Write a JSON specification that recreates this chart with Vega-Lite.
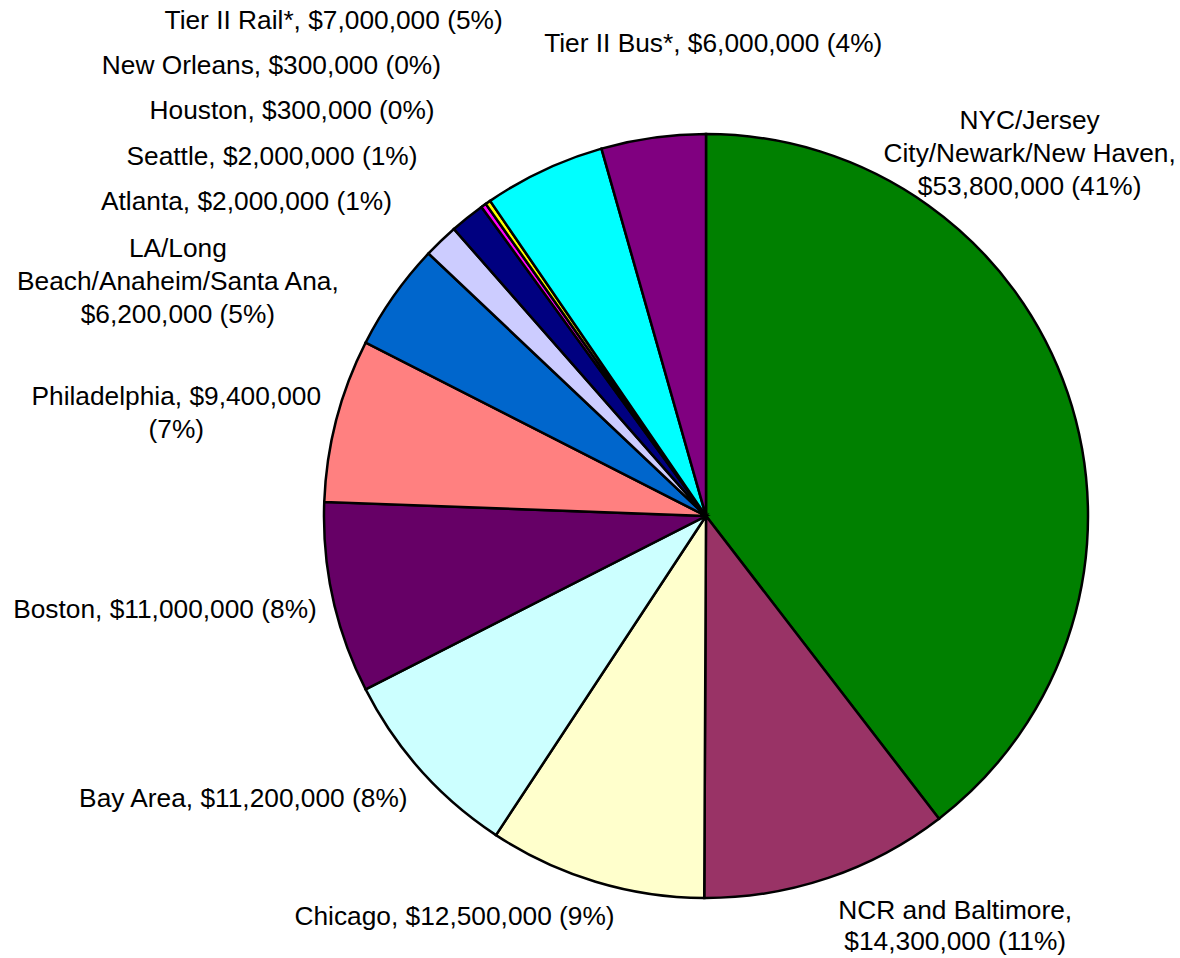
{
  "$schema": "https://vega.github.io/schema/vega-lite/v6.json",
  "width": 764,
  "height": 764,
  "autosize": {"type": "none"},
  "padding": {"left": 324, "top": 134, "right": 92, "bottom": 60},
  "background": "white",
  "config": {"view": {"stroke": null}, "text": {"font": "Liberation Sans", "fontSize": 26.3, "lineHeight": 33, "lineBreak": "\n", "color": "black"}},
  "data": {
    "values": [
      {"rank": 1, "region": "NYC/Jersey City/Newark/New Haven", "amount": 53800000, "label": "NYC/Jersey\nCity/Newark/New Haven,\n$53,800,000 (41%)"},
      {"rank": 2, "region": "NCR and Baltimore", "amount": 14300000, "label": "NCR and Baltimore,\n$14,300,000 (11%)"},
      {"rank": 3, "region": "Chicago", "amount": 12500000, "label": "Chicago, $12,500,000 (9%)"},
      {"rank": 4, "region": "Bay Area", "amount": 11200000, "label": "Bay Area, $11,200,000 (8%)"},
      {"rank": 5, "region": "Boston", "amount": 11000000, "label": "Boston, $11,000,000 (8%)"},
      {"rank": 6, "region": "Philadelphia", "amount": 9400000, "label": "Philadelphia, $9,400,000\n(7%)"},
      {"rank": 7, "region": "LA/Long Beach/Anaheim/Santa Ana", "amount": 6200000, "label": "LA/Long\nBeach/Anaheim/Santa Ana,\n$6,200,000 (5%)"},
      {"rank": 8, "region": "Atlanta", "amount": 2000000, "label": "Atlanta, $2,000,000 (1%)"},
      {"rank": 9, "region": "Seattle", "amount": 2000000, "label": "Seattle, $2,000,000 (1%)"},
      {"rank": 10, "region": "Houston", "amount": 300000, "label": "Houston, $300,000 (0%)"},
      {"rank": 11, "region": "New Orleans", "amount": 300000, "label": "New Orleans, $300,000 (0%)"},
      {"rank": 12, "region": "Tier II Rail*", "amount": 7000000, "label": "Tier II Rail*, $7,000,000 (5%)"},
      {"rank": 13, "region": "Tier II Bus*", "amount": 6000000, "label": "Tier II Bus*, $6,000,000 (4%)"}
    ]
  },
  "encoding": {
    "theta": {"field": "amount", "type": "quantitative", "stack": true},
    "order": {"field": "rank", "type": "quantitative", "sort": "ascending"}
  },
  "layer": [
    {
      "mark": {"type": "arc", "stroke": "black", "strokeWidth": 2.5, "outerRadius": 382},
      "encoding": {
        "color": {
          "field": "region", "type": "nominal", "legend": null,
          "scale": {
            "domain": ["NYC/Jersey City/Newark/New Haven", "NCR and Baltimore", "Chicago", "Bay Area", "Boston", "Philadelphia", "LA/Long Beach/Anaheim/Santa Ana", "Atlanta", "Seattle", "Houston", "New Orleans", "Tier II Rail*", "Tier II Bus*"],
            "range": ["#008000", "#993366", "#FFFFCC", "#CCFFFF", "#660066", "#FF8080", "#0066CC", "#CCCCFF", "#000080", "#FF00FF", "#FFFF00", "#00FFFF", "#800080"]
          }
        }
      }
    },
    {"mark": {"type": "text", "radius": 382, "align": "center", "baseline": "middle", "dx": -38, "dy": -272},
     "encoding": {"text": {"condition": {"test": "datum.rank === 1", "field": "label", "type": "nominal"}, "value": ""}}},
    {"mark": {"type": "text", "radius": 382, "align": "center", "baseline": "middle", "dx": 127, "dy": 33, "lineHeight": 31},
     "encoding": {"text": {"condition": {"test": "datum.rank === 2", "field": "label", "type": "nominal"}, "value": ""}}},
    {"mark": {"type": "text", "radius": 382, "align": "center", "baseline": "middle", "dx": -141, "dy": 35},
     "encoding": {"text": {"condition": {"test": "datum.rank === 3", "field": "label", "type": "nominal"}, "value": ""}}},
    {"mark": {"type": "text", "radius": 382, "align": "center", "baseline": "middle", "dx": -178, "dy": 28},
     "encoding": {"text": {"condition": {"test": "datum.rank === 4", "field": "label", "type": "nominal"}, "value": ""}}},
    {"mark": {"type": "text", "radius": 382, "align": "center", "baseline": "middle", "dx": -168, "dy": 12},
     "encoding": {"text": {"condition": {"test": "datum.rank === 5", "field": "label", "type": "nominal"}, "value": ""}}},
    {"mark": {"type": "text", "radius": 382, "align": "center", "baseline": "middle", "dx": -160, "dy": -23},
     "encoding": {"text": {"condition": {"test": "datum.rank === 6", "field": "label", "type": "nominal"}, "value": ""}}},
    {"mark": {"type": "text", "radius": 382, "align": "center", "baseline": "middle", "dx": -216, "dy": -47},
     "encoding": {"text": {"condition": {"test": "datum.rank === 7", "field": "label", "type": "nominal"}, "value": ""}}},
    {"mark": {"type": "text", "radius": 382, "align": "right", "baseline": "middle", "dx": -49, "dy": -39},
     "encoding": {"text": {"condition": {"test": "datum.rank === 8", "field": "label", "type": "nominal"}, "value": ""}}},
    {"mark": {"type": "text", "radius": 382, "align": "right", "baseline": "middle", "dx": -50, "dy": -61},
     "encoding": {"text": {"condition": {"test": "datum.rank === 9", "field": "label", "type": "nominal"}, "value": ""}}},
    {"mark": {"type": "text", "radius": 382, "align": "right", "baseline": "middle", "dx": -49, "dy": -94},
     "encoding": {"text": {"condition": {"test": "datum.rank === 10", "field": "label", "type": "nominal"}, "value": ""}}},
    {"mark": {"type": "text", "radius": 382, "align": "right", "baseline": "middle", "dx": -47, "dy": -136},
     "encoding": {"text": {"condition": {"test": "datum.rank === 11", "field": "label", "type": "nominal"}, "value": ""}}},
    {"mark": {"type": "text", "radius": 382, "align": "right", "baseline": "middle", "dx": -41, "dy": -149},
     "encoding": {"text": {"condition": {"test": "datum.rank === 12", "field": "label", "type": "nominal"}, "value": ""}}},
    {"mark": {"type": "text", "radius": 382, "align": "center", "baseline": "middle", "dx": 60, "dy": -94},
     "encoding": {"text": {"condition": {"test": "datum.rank === 13", "field": "label", "type": "nominal"}, "value": ""}}}
  ]
}
